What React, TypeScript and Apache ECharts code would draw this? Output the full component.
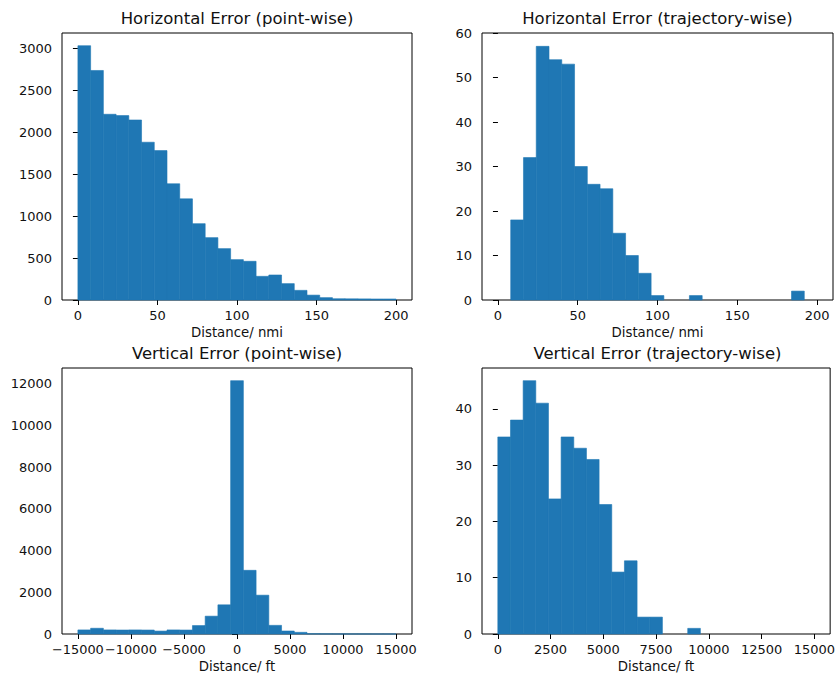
import React, { useEffect, useRef } from "react";
import * as echarts from "echarts";

// ---------- Data ----------
const titles = [
  "Horizontal Error (point-wise)",
  "Horizontal Error (trajectory-wise)",
  "Vertical Error (point-wise)",
  "Vertical Error (trajectory-wise)",
];
const xNames = ["Distance/ nmi", "Distance/ nmi", "Distance/ ft", "Distance/ ft"];

// Histogram bins: start and width per panel (25 bins each)
const binStarts = [0, 0, -15000, 0];
const binWidths = [8, 8, 1200, 600];

const hPointCounts = [
  3030, 2735, 2213, 2197, 2145, 1880, 1780, 1385, 1205, 910, 743, 612, 481,
  461, 282, 298, 195, 115, 58, 28, 15, 14, 13, 12, 12,
];
const hTrajCounts = [
  0, 18, 32, 57, 54, 53, 30, 26, 25, 15, 10, 6, 1, 0, 0, 1, 0, 0, 0, 0, 0, 0,
  0, 2, 0,
];
const vPointCounts = [
  195, 275, 195, 190, 195, 190, 140, 195, 190, 405, 855, 1400, 12157, 3055,
  1862, 415, 143, 80, 10, 5, 3, 2, 2, 1, 1,
];
const vTrajCounts = [
  35, 38, 45, 41, 24, 35, 33, 31, 23, 11, 13, 3, 3, 0, 0, 1, 0, 0, 0, 0, 0, 0,
  0, 0, 0,
];
const allCounts = [hPointCounts, hTrajCounts, vPointCounts, vTrajCounts];

// Axis ranges and tick labels
const xMins = [-10, -10, -16500, -750];
const xMaxs = [210, 210, 16500, 15750];
const xTicks = [
  [0, 50, 100, 150, 200],
  [0, 50, 100, 150, 200],
  [-15000, -10000, -5000, 0, 5000, 10000, 15000],
  [0, 2500, 5000, 7500, 10000, 12500, 15000],
];
const yMaxs = [3181.5, 60, 12765, 47.25];
const yTicks = [
  [0, 500, 1000, 1500, 2000, 2500, 3000],
  [0, 10, 20, 30, 40, 50, 60],
  [0, 2000, 4000, 6000, 8000, 10000, 12000],
  [0, 10, 20, 30, 40],
];

// ---------- Layout ----------
const grids = [
  { left: 62, top: 33, width: 350, height: 267 },
  { left: 482, top: 33, width: 351, height: 267 },
  { left: 62, top: 368, width: 350, height: 267 },
  { left: 482, top: 368, width: 351, height: 267 },
];

const FONT = "'DejaVu Sans', Verdana, sans-serif";
const TXT = "#111";
const BAR = "#1f77b4";
const TICK_FS = 13;

function fmt(v: number) {
  return String(v).replace("-", "\u2212");
}

export default function App() {
  const ref = useRef<HTMLDivElement>(null);
  useEffect(() => {
    if (!ref.current) return;
    const chart = echarts.init(ref.current, null, { renderer: "svg" });

    const xAxis = grids.map((_, i) => ({
      type: "value",
      gridIndex: i,
      min: xMins[i],
      max: xMaxs[i],
      name: xNames[i],
      nameLocation: "middle",
      nameGap: 26,
      nameTextStyle: { color: TXT, fontSize: 13.3, fontFamily: FONT },
      axisLine: { show: false },
      axisTick: {
        show: true,
        length: 5,
        customValues: xTicks[i],
        lineStyle: { color: "#000", width: 1 },
      },
      axisLabel: {
        customValues: xTicks[i],
        showMinLabel: true,
        showMaxLabel: true,
        hideOverlap: false,
        color: TXT,
        fontSize: i === 2 ? 12.9 : TICK_FS,
        fontFamily: FONT,
        margin: 9,
        formatter: (v: number) => fmt(v),
      },
      splitLine: { show: false },
    }));

    const yAxis = grids.map((_, i) => ({
      type: "value",
      gridIndex: i,
      min: 0,
      max: yMaxs[i],
      axisLine: { show: false },
      axisTick: {
        show: true,
        length: 5,
        customValues: yTicks[i],
        lineStyle: { color: "#000", width: 1 },
      },
      axisLabel: {
        customValues: yTicks[i],
        showMinLabel: true,
        showMaxLabel: true,
        color: TXT,
        fontSize: TICK_FS,
        fontFamily: FONT,
        margin: 10,
        formatter: (v: number) => fmt(v),
      },
      splitLine: { show: false },
    }));

    const series = allCounts.map((counts, i) => ({
      type: "custom",
      xAxisIndex: i,
      yAxisIndex: i,
      encode: { x: [0, 1], y: 2 },
      data: counts.map((c, k) => [
        binStarts[i] + k * binWidths[i],
        binStarts[i] + (k + 1) * binWidths[i],
        c,
      ]),
      renderItem: (params: any, api: any) => {
        const x0 = api.value(0);
        const x1 = api.value(1);
        const c = api.value(2);
        if (!c) return null;
        const p0 = api.coord([x0, c]);
        const p1 = api.coord([x1, 0]);
        return {
          type: "rect",
          shape: {
            x: p0[0],
            y: p0[1],
            width: p1[0] - p0[0],
            height: p1[1] - p0[1],
          },
          style: { fill: BAR, stroke: BAR, lineWidth: 0.6 },
        };
      },
    }));

    const graphic = grids.map((g, i) => ({
      type: "text",
      x: g.left + g.width / 2,
      y: g.top - 15,
      style: {
        text: titles[i],
        fill: TXT,
        fontSize: 16.5,
        fontFamily: FONT,
        textAlign: "center",
        textVerticalAlign: "middle",
      },
    }));

    chart.setOption({
      animation: false,
      backgroundColor: "#fff",
      grid: grids.map((g) => ({
        ...g,
        show: true,
        borderColor: "#000",
        borderWidth: 1,
        backgroundColor: "transparent",
        containLabel: false,
      })),
      xAxis,
      yAxis,
      series,
      graphic,
    });
    return () => chart.dispose();
  }, []);
  return (
    <div
      ref={ref}
      style={{ position: "fixed", left: 0, top: 0, width: 838, height: 674 }}
    />
  );
}
